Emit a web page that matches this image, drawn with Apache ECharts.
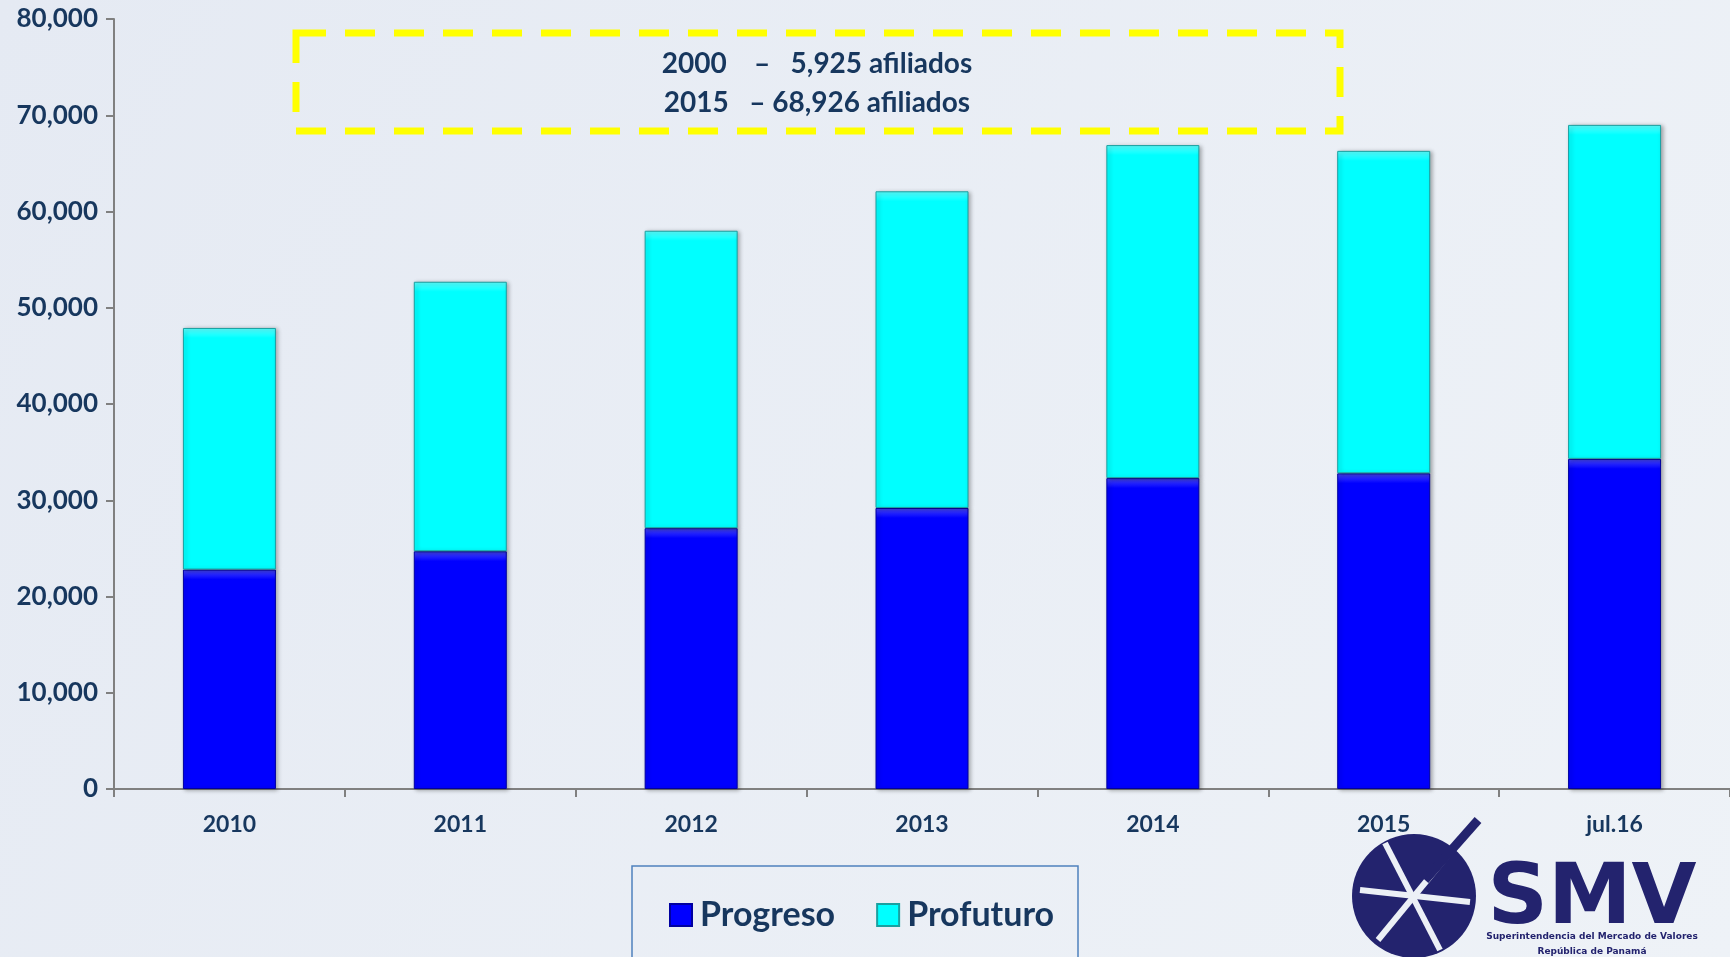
<!DOCTYPE html>
<html>
<head>
<meta charset="utf-8">
<title>Afiliados</title>
<script src="https://cdn.jsdelivr.net/npm/echarts@6/dist/echarts.min.js"></script>
<style>
  html, body { margin: 0; padding: 0; background: #ECF0F6; }
  #chart { width: 1730px; height: 957px; }
</style>
</head>
<body>
<div id="chart"></div>
<script>
var categories = ["2010", "2011", "2012", "2013", "2014", "2015", "jul.16"];
var progreso = [22800, 24700, 27100, 29200, 32300, 32800, 34300];
var profuturo = [25100, 28000, 30900, 32900, 34600, 33500, 34700];
var yTicks = [0, 10000, 20000, 30000, 40000, 50000, 60000, 70000, 80000];
var noteLines = ["2000    \u2013   5,925 afiliados", "2015   \u2013 68,926 afiliados"];

var navy = "#17375E";
var fontFam = "Lato, 'Open Sans', sans-serif";

// a lighter band at the top of each bar, like the bevel in the original
function bevel(base, light, value) {
  var h = value * 770 / 80000;
  var f = Math.min(0.5, 10 / h);
  return {
    type: "linear", x: 0, y: 0, x2: 0, y2: 1,
    colorStops: [
      { offset: 0, color: light },
      { offset: f, color: base },
      { offset: 1, color: base }
    ]
  };
}

var chart = echarts.init(document.getElementById("chart"));
chart.setOption({
  backgroundColor: {
    type: "linear", x: 0, y: 0, x2: 1, y2: 1,
    colorStops: [
      { offset: 0, color: "#E5EAF3" },
      { offset: 1, color: "#EEF2F7" }
    ]
  },
  animation: false,
  grid: { left: 114, right: 0, top: 19, bottom: 168 },
  legend: {
    left: 664,
    top: 893,
    itemWidth: 22,
    itemHeight: 22,
    itemGap: 41,
    icon: "rect",
    textStyle: { fontSize: 34, fontWeight: "bold", color: navy, fontFamily: fontFam, padding: [0, 0, 0, 3] },
    data: ["Progreso", "Profuturo"]
  },
  xAxis: {
    type: "category",
    data: categories,
    axisLine: { lineStyle: { color: "#808080", width: 2 } },
    axisTick: { show: true, length: 8, lineStyle: { color: "#808080", width: 2 } },
    axisLabel: { margin: 24, fontSize: 23, fontWeight: "bold", color: navy, fontFamily: fontFam }
  },
  yAxis: {
    type: "value",
    min: yTicks[0],
    max: yTicks[yTicks.length - 1],
    interval: yTicks[1] - yTicks[0],
    splitLine: { show: false },
    axisLine: { show: true, lineStyle: { color: "#808080", width: 2 } },
    axisTick: { show: true, length: 8, lineStyle: { color: "#808080", width: 2 } },
    axisLabel: {
      margin: 16, fontSize: 26, fontWeight: "bold", color: navy, fontFamily: fontFam,
      formatter: function (v) { return v.toLocaleString("en-US"); }
    }
  },
  series: [
    {
      name: "Progreso",
      type: "bar",
      stack: "total",
      barWidth: 93,
      itemStyle: { color: "#0000FF", borderColor: "#0000A0", borderWidth: 1,
        shadowBlur: 4, shadowColor: "rgba(0,0,0,0.3)", shadowOffsetX: 2, shadowOffsetY: 1 },
      data: progreso.map(function (v) {
        return { value: v, itemStyle: { color: bevel("#0000FF", "#4A4AFF", v) } };
      })
    },
    {
      name: "Profuturo",
      type: "bar",
      stack: "total",
      barWidth: 93,
      itemStyle: { color: "#00FFFF", borderColor: "#1AA0A0", borderWidth: 1,
        shadowBlur: 4, shadowColor: "rgba(0,0,0,0.3)", shadowOffsetX: 2, shadowOffsetY: 1 },
      data: profuturo.map(function (v) {
        return { value: v, itemStyle: { color: bevel("#00FFFF", "#5CFFFF", v) } };
      })
    }
  ],
  graphic: [
    // dashed yellow note box
    {
      type: "rect",
      shape: { x: 296, y: 33, width: 1044, height: 98 },
      style: { fill: null, stroke: "#FFFF00", lineWidth: 7, lineDash: [30, 19] },
      z: 10
    },
    {
      type: "text", x: 817, y: 64,
      style: { text: noteLines[0], fill: navy, font: "bold 28px " + fontFam, textAlign: "center", textVerticalAlign: "middle" },
      z: 11
    },
    {
      type: "text", x: 817, y: 103,
      style: { text: noteLines[1], fill: navy, font: "bold 28px " + fontFam, textAlign: "center", textVerticalAlign: "middle" },
      z: 11
    },
    // legend frame
    {
      type: "rect",
      shape: { x: 632, y: 866, width: 446, height: 100 },
      style: { fill: null, stroke: "#4F81BD", lineWidth: 1.5 },
      z: 5
    },
    // SMV logo (simplified)
    {
      type: "group",
      z: 20,
      children: [
        { type: "circle", shape: { cx: 1414, cy: 896, r: 62 }, style: { fill: "#23236E" } },
        { type: "line", shape: { x1: 1360, y1: 890, x2: 1470, y2: 902 }, style: { stroke: "#ECF0F6", lineWidth: 6 } },
        { type: "line", shape: { x1: 1385, y1: 843, x2: 1440, y2: 950 }, style: { stroke: "#ECF0F6", lineWidth: 6 } },
        { type: "line", shape: { x1: 1378, y1: 940, x2: 1452, y2: 850 }, style: { stroke: "#ECF0F6", lineWidth: 6 } },
        { type: "line", shape: { x1: 1425, y1: 880, x2: 1478, y2: 820 }, style: { stroke: "#23236E", lineWidth: 9 } },
        { type: "text", x: 1592, y: 901,
          style: { text: "SMV", fill: "#23236E", font: "900 84px 'DejaVu Sans', Lato, sans-serif", textAlign: "center", textVerticalAlign: "middle" } },
        { type: "text", x: 1592, y: 937,
          style: { text: "Superintendencia del Mercado de Valores", fill: "#23236E", font: "bold 9px 'DejaVu Sans', sans-serif", textAlign: "center", textVerticalAlign: "middle" } },
        { type: "text", x: 1592, y: 952,
          style: { text: "República de Panamá", fill: "#23236E", font: "bold 9px 'DejaVu Sans', sans-serif", textAlign: "center", textVerticalAlign: "middle" } }
      ]
    }
  ]
});
</script>
</body>
</html>
